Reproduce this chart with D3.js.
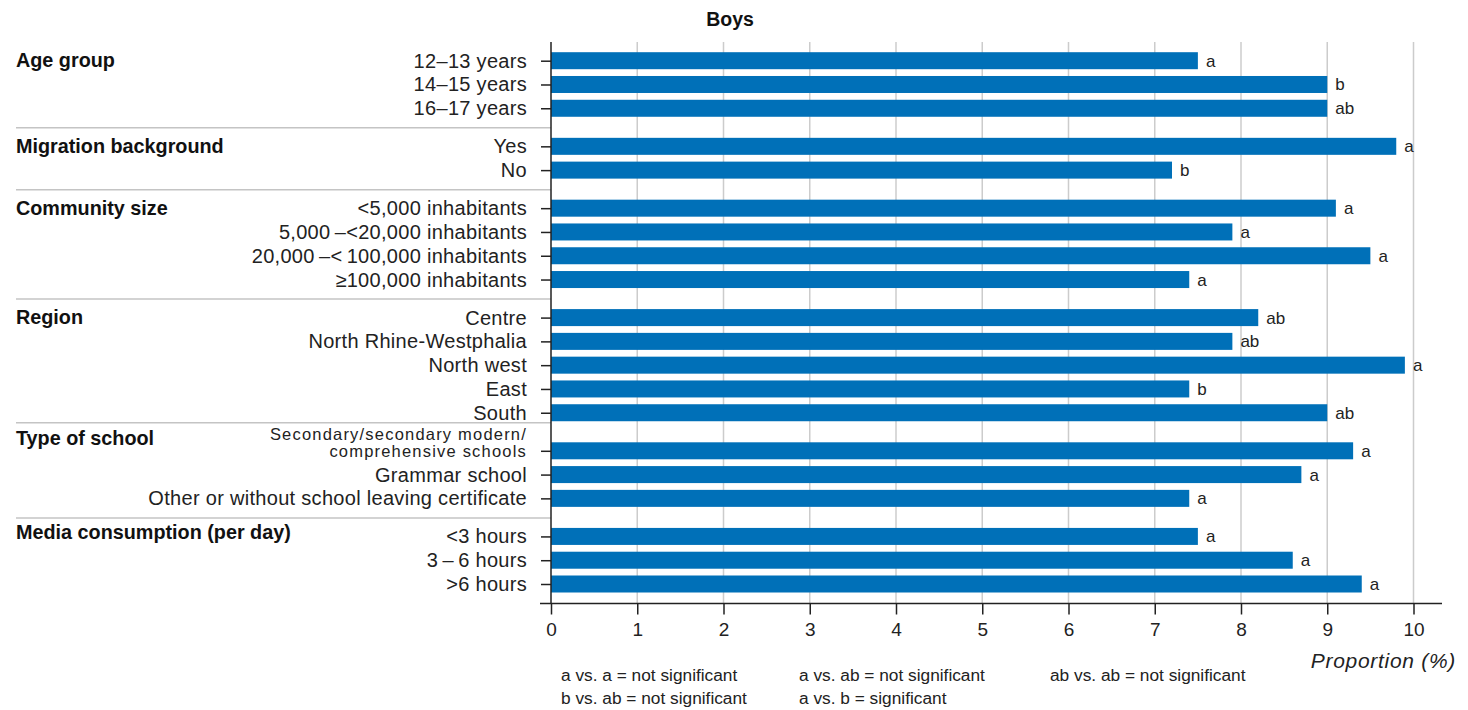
<!DOCTYPE html>
<html>
<head>
<meta charset="utf-8">
<script src="https://cdn.jsdelivr.net/npm/d3@7"></script>
<style>
  html, body { margin: 0; padding: 0; background: #fff; }
  svg { display: block; font-family: "Liberation Sans", Arial, sans-serif; }
</style>
</head>
<body>
<svg id="chart" width="1468" height="710"></svg>
<script>
const title = "Boys";
const groups = ["Age group", "Migration background", "Community size", "Region", "Type of school", "Media consumption (per day)"];
const categories = [
  "12\u201313 years", "14\u201315 years", "16\u201317 years",
  "Yes", "No",
  "<5,000 inhabitants", "5,000\u2009\u2013<20,000 inhabitants", "20,000\u2009\u2013<\u2009100,000 inhabitants", "\u2265100,000 inhabitants",
  "Centre", "North Rhine-Westphalia", "North west", "East", "South",
  "Secondary/secondary modern/|comprehensive schools", "Grammar school", "Other or without school leaving certificate",
  "<3 hours", "3\u2009\u2013\u20096 hours", ">6 hours"
];
const categoryGroup = [0,0,0, 1,1, 2,2,2,2, 3,3,3,3,3, 4,4,4, 5,5,5];
const values = [7.5, 9.0, 9.0, 9.8, 7.2, 9.1, 7.9, 9.5, 7.4, 8.2, 7.9, 9.9, 7.4, 9.0, 9.3, 8.7, 7.4, 7.5, 8.6, 9.4];
const sigLetters = ["a","b","ab", "a","b", "a","a","a","a", "ab","ab","a","b","ab", "a","a","a", "a","a","a"];
const xTicks = [0,1,2,3,4,5,6,7,8,9,10];
const xLabel = "Proportion (%)";
const legendRows = [
  ["a vs. a = not significant", "a vs. ab = not significant", "ab vs. ab = not significant"],
  ["b vs. ab = not significant", "a vs. b = significant"]
];

const svg = d3.select("#chart");
const barColor = "#0070b8";
const gapUnits = 0.6;

const x = d3.scaleLinear().domain([0, 10]).range([551, 1413.5]);
const pos = categories.map((c, i) => i + categoryGroup[i] * gapUnits);
const y = d3.scaleLinear().domain([0, categories.length - 1 + (groups.length - 1) * gapUnits]).range([60.7, 584]);
const barH = 17;
const plotTop = 42, plotBottom = 603.5;

// gridlines
svg.append("g").selectAll("line").data(xTicks.filter(d => d > 0)).join("line")
  .attr("x1", d => x(d)).attr("x2", d => x(d))
  .attr("y1", plotTop).attr("y2", plotBottom)
  .attr("stroke", "#cccccc").attr("stroke-width", 1.5);

// group separators
const firstIdx = groups.map((g, gi) => categoryGroup.indexOf(gi));
const sepY = i => y(pos[i]) - 18.5 - (categories[i].includes("|") ? 9.5 : 0);
svg.append("g").selectAll("line").data(firstIdx.slice(1)).join("line")
  .attr("x1", 16).attr("x2", 551)
  .attr("y1", sepY).attr("y2", sepY)
  .attr("stroke", "#c4c4c4").attr("stroke-width", 1.5);

// bars
svg.append("g").selectAll("rect").data(values).join("rect")
  .attr("x", x(0)).attr("y", (d, i) => y(pos[i]) - barH / 2)
  .attr("width", d => x(d) - x(0)).attr("height", barH)
  .attr("fill", barColor);

// significance letters
svg.append("g").selectAll("text").data(sigLetters).join("text")
  .attr("x", (d, i) => x(values[i]) + 8)
  .attr("y", (d, i) => y(pos[i]) + 6)
  .attr("font-size", 17).attr("fill", "#222")
  .text(d => d);

// left axis
const yAxis = d3.axisLeft(y).tickValues(pos).tickSize(10).tickPadding(13).tickFormat("");
const gy = svg.append("g").attr("transform", "translate(551,0)").call(yAxis);
gy.select(".domain").remove();
gy.selectAll(".tick line").attr("stroke", "#222").attr("stroke-width", 1.5);
svg.append("line").attr("x1", 551).attr("x2", 551).attr("y1", plotTop).attr("y2", plotBottom)
  .attr("stroke", "#222").attr("stroke-width", 1.5);

// category labels
const lab = svg.append("g").selectAll("text").data(categories).join("text")
  .attr("text-anchor", "end")
  .attr("x", 527)
  .attr("fill", "#222");
lab.each(function(d, i) {
  const t = d3.select(this);
  const yc = y(pos[i]);
  if (d.includes("|")) {
    const parts = d.split("|");
    t.attr("font-size", 16.5).attr("letter-spacing", 1.2);
    t.append("tspan").attr("x", 527).attr("y", yc - 10.5).text(parts[0]);
    t.append("tspan").attr("x", 527).attr("y", yc + 6.5).text(parts[1]);
  } else {
    t.attr("font-size", 20).attr("letter-spacing", 0.3).attr("y", yc + 7).text(d);
  }
});

// group headings
svg.append("g").selectAll("text").data(groups).join("text")
  .attr("x", 16)
  .attr("y", (g, gi) => y(pos[firstIdx[gi]]) + 6.5 - (categories[firstIdx[gi]].includes("|") ? 12 : 0) - (gi === groups.length - 1 ? 4 : 0))
  .attr("font-size", 19.8).attr("font-weight", "bold").attr("fill", "#111")
  .text(g => g);

// bottom axis
const xAxis = d3.axisBottom(x).tickValues(xTicks).tickSize(11).tickPadding(8).tickFormat(d3.format("d"));
const gx = svg.append("g").attr("transform", `translate(0,${plotBottom})`).call(xAxis);
gx.select(".domain").remove();
gx.selectAll(".tick line").attr("stroke", "#222").attr("stroke-width", 1.5);
gx.selectAll(".tick text").attr("font-size", 19).attr("fill", "#222").attr("font-family", "Liberation Sans, Arial, sans-serif");
svg.append("line").attr("x1", 540).attr("x2", 1442).attr("y1", plotBottom).attr("y2", plotBottom)
  .attr("stroke", "#222").attr("stroke-width", 1.5);

// x label
svg.append("text").attr("x", 1456).attr("y", 668).attr("text-anchor", "end")
  .attr("font-size", 21).attr("letter-spacing", 0.7).attr("font-style", "italic").attr("fill", "#222").text(xLabel);

// title
svg.append("text").attr("x", 730).attr("y", 26).attr("text-anchor", "middle")
  .attr("font-size", 19.5).attr("font-weight", "bold").attr("fill", "#111").text(title);

// legend
const legendX = [561, 799, 1050];
legendRows.forEach((row, r) => {
  svg.append("g").selectAll("text").data(row).join("text")
    .attr("x", (d, i) => legendX[i]).attr("y", 681 + r * 23)
    .attr("font-size", 17.3).attr("fill", "#222").text(d => d);
});
</script>
</body>
</html>
